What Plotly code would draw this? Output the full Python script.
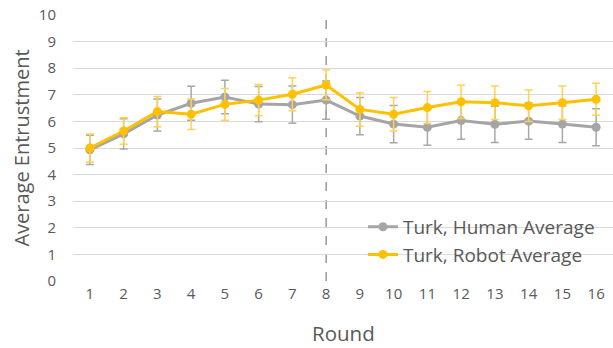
import plotly.graph_objects as go

rounds = list(range(1, 17))
human_avg = [4.93, 5.53, 6.24, 6.68, 6.92, 6.65, 6.63, 6.80, 6.20, 5.90, 5.78, 6.03, 5.89, 6.01, 5.90, 5.78]
human_err = [0.55, 0.57, 0.60, 0.64, 0.63, 0.66, 0.70, 0.72, 0.70, 0.70, 0.68, 0.70, 0.68, 0.68, 0.69, 0.70]
robot_avg = [5.00, 5.64, 6.37, 6.27, 6.64, 6.80, 7.02, 7.37, 6.45, 6.27, 6.52, 6.74, 6.70, 6.59, 6.70, 6.83]
robot_err = [0.53, 0.50, 0.57, 0.57, 0.60, 0.59, 0.62, 0.56, 0.63, 0.63, 0.60, 0.63, 0.63, 0.59, 0.63, 0.60]
y_ticks = list(range(0, 11))
divider_round = 8

FONT = "Open Sans"
TXT = "#595959"

fig = go.Figure()
fig.add_trace(go.Scatter(
    x=rounds, y=human_avg, name="Turk, Human Average", mode="lines+markers",
    line=dict(color="#A5A5A5", width=3), marker=dict(color="#A5A5A5", size=9),
    error_y=dict(type="data", array=human_err, visible=True, color="#A8A8A8", thickness=1.5, width=4),
))
fig.add_trace(go.Scatter(
    x=rounds, y=robot_avg, name="Turk, Robot Average", mode="lines+markers",
    line=dict(color="#FFC000", width=3), marker=dict(color="#FFC000", size=9),
    error_y=dict(type="data", array=robot_err, visible=True, color="#FFD254", thickness=1.5, width=4),
))

fig.add_shape(type="line", xref="x", yref="y", x0=divider_round, x1=divider_round, y0=0, y1=10,
              line=dict(color="#7F7F7F", width=1.2, dash="dash"), layer="below")

fig.update_layout(
    width=613, height=348,
    margin=dict(l=73, r=0, t=15, b=67, autoexpand=False),
    paper_bgcolor="white", plot_bgcolor="white",
    font=dict(family=FONT, color=TXT),
    showlegend=True,
    legend=dict(x=0.537, y=0.275, xanchor="left", yanchor="top", bgcolor="rgba(0,0,0,0)",
                font=dict(size=19, color=TXT), tracegroupgap=0, itemwidth=30),
    xaxis=dict(range=[0.5, 16.5], tickvals=rounds, ticktext=[str(r) for r in rounds],
               showgrid=False, zeroline=False, showline=False, automargin=False,
               ticklabeloverflow="allow",
               tickfont=dict(size=15, color=TXT), ticklabelstandoff=2),
    yaxis=dict(range=[0, 10], tickvals=y_ticks, showgrid=True, gridcolor="#D9D9D9", gridwidth=1,
               zeroline=False, showline=False, automargin=False, tickfont=dict(size=15, color=TXT),
               ticklabeloverflow="allow", ticklabelstandoff=16),
    annotations=[
        dict(text="Round", x=0.5, y=-0.195, xref="paper", yref="paper", showarrow=False,
             font=dict(size=20.5, color=TXT), xanchor="center", yanchor="middle"),
        dict(text="Average Entrustment", x=-0.097, y=0.5, xref="paper", yref="paper", showarrow=False,
             textangle=-90, font=dict(size=20, color=TXT), xanchor="center", yanchor="middle"),
    ],
)

# remove the default page margin so the 613x348 figure fills the window exactly
fig.write_html("out.html", config={"displayModeBar": False},
               post_script="document.body.style.margin='0';document.body.style.overflow='hidden';")
